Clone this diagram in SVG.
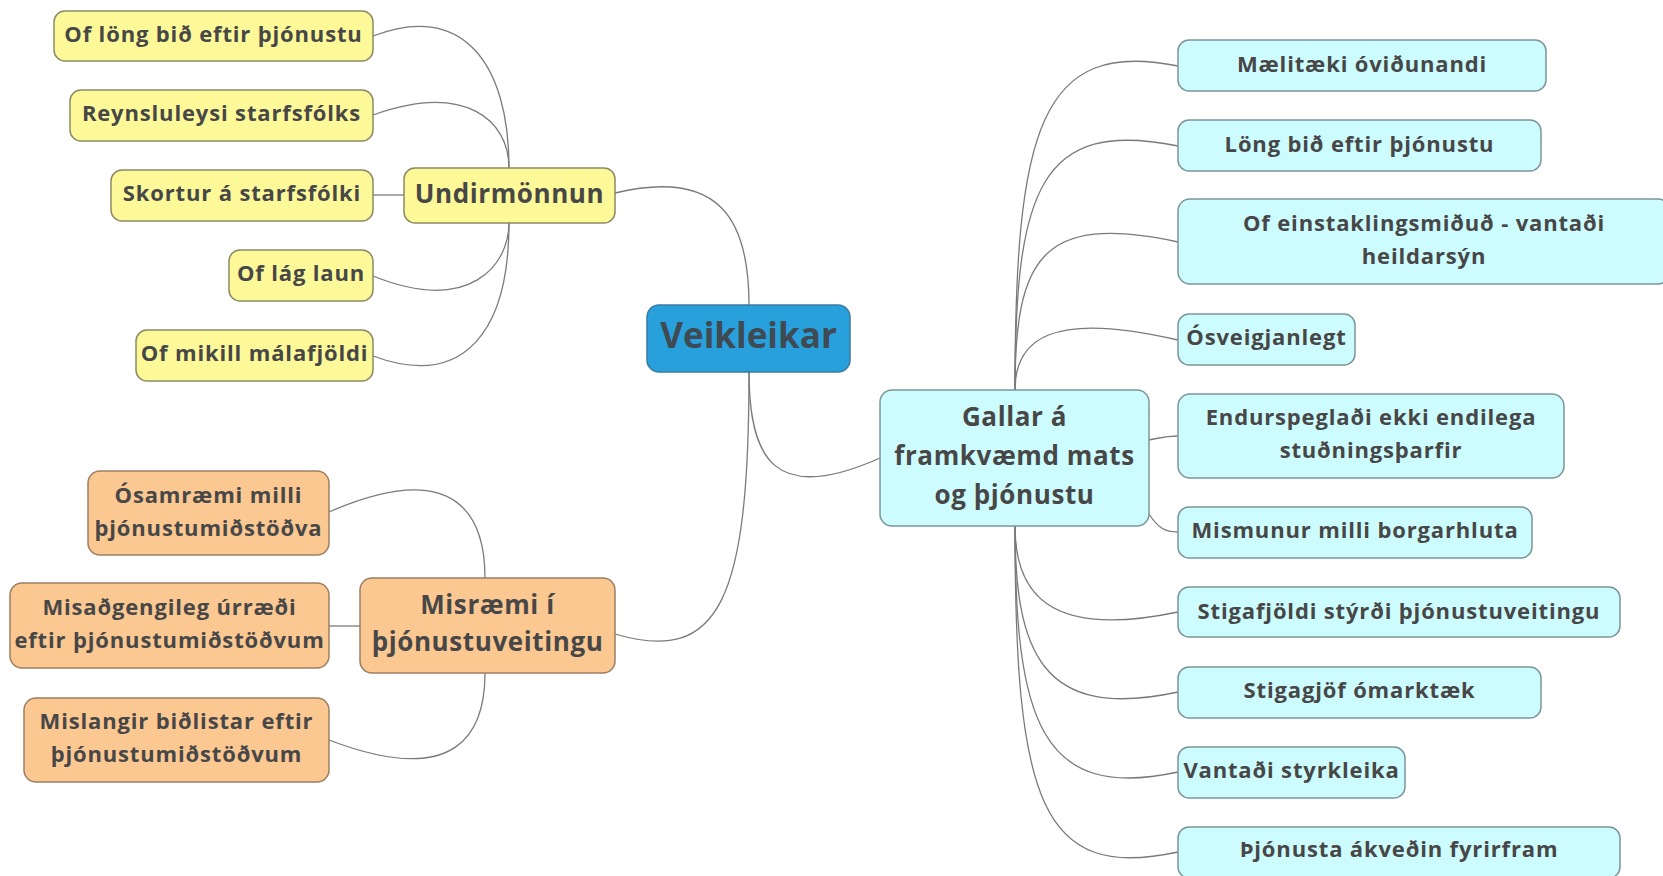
<svg xmlns="http://www.w3.org/2000/svg" width="1663" height="876" viewBox="0 0 1663 876">
<style>
  text { font-family: "Open Sans", "Noto Sans", "DejaVu Sans", sans-serif; font-weight: bold; fill: #474747; text-anchor: middle; }
  .leaf { font-size: 22px; letter-spacing: 0.85px; }
  .mid { font-size: 26px; letter-spacing: 0.6px; }
  .root { font-size: 35px; fill: #3f4a52; }
  .y { fill: #fdf998; stroke: #8c8a64; stroke-width: 1.5; }
  .o { fill: #fcc892; stroke: #9c7f62; stroke-width: 1.5; }
  .c { fill: #cdfcff; stroke: #7c9599; stroke-width: 1.5; }
  .b { fill: #28a0dc; stroke: #3a7aa0; stroke-width: 1.5; }
  .conn path { fill: none; stroke: #7a7a7a; stroke-width: 1.3; }
</style>
<rect width="1663" height="876" fill="#ffffff"/>
<g class="conn" id="connectors">
  <path d="M 749,305 C 749,220 720,168 615,193"/>
  <path d="M 749,372 C 749,600 720,665 615,634"/>
  <path d="M 749,372 C 749,460 775,505 880,458"/>
  <path d="M 509,168 C 509,60 460,2 373,36"/>
  <path d="M 509,168 C 509,120 465,82 373,115"/>
  <path d="M 373,195 L 404,195"/>
  <path d="M 509,223 C 509,265 470,315 373,276"/>
  <path d="M 509,223 C 509,330 465,390 373,356"/>
  <path d="M 485,578 C 485,520 460,455 329,512"/>
  <path d="M 329,626 L 360,626"/>
  <path d="M 485,673 C 485,730 460,790 329,740"/>
  <path d="M 1015,390 C 1015,130 1040,38 1178,66"/>
  <path d="M 1015,390 C 1015,190 1040,118 1178,146"/>
  <path d="M 1015,390 C 1015,260 1040,212 1178,242"/>
  <path d="M 1015,390 C 1015,340 1050,310 1178,340"/>
  <path d="M 1149,440 C 1160,438 1165,436 1178,436"/>
  <path d="M 1149,514 C 1158,528 1165,532 1178,532"/>
  <path d="M 1015,526 C 1015,590 1045,640 1178,612"/>
  <path d="M 1015,526 C 1015,650 1040,722 1178,692"/>
  <path d="M 1015,526 C 1015,720 1040,802 1178,772"/>
  <path d="M 1015,526 C 1015,800 1040,882 1178,852"/>
</g>
<g id="root"><rect class="b" x="647" y="305" width="203" height="67" rx="12"/><text class="root" x="748.5" y="348">Veikleikar</text></g>
<g id="undirmonnun"><rect class="y" x="404" y="168" width="211" height="55" rx="11"/><text class="mid" x="509.5" y="203">Undirmönnun</text></g>
<g id="y1"><rect class="y" x="54" y="11" width="319" height="50" rx="11"/><text class="leaf" x="213.5" y="42">Of löng bið eftir þjónustu</text></g>
<g id="y2"><rect class="y" x="70" y="90" width="303" height="51" rx="11"/><text class="leaf" x="221.5" y="121">Reynsluleysi starfsfólks</text></g>
<g id="y3"><rect class="y" x="111" y="170" width="262" height="51" rx="11"/><text class="leaf" x="242" y="201">Skortur á starfsfólki</text></g>
<g id="y4"><rect class="y" x="229" y="250" width="144" height="51" rx="11"/><text class="leaf" x="301" y="281">Of lág laun</text></g>
<g id="y5"><rect class="y" x="136" y="330" width="237" height="51" rx="11"/><text class="leaf" x="254.5" y="361">Of mikill málafjöldi</text></g>
<g id="misraemi"><rect class="o" x="360" y="578" width="255" height="95" rx="12"/><text class="mid" x="487.5" y="614">Misræmi í</text><text class="mid" x="487.5" y="651">þjónustuveitingu</text></g>
<g id="o1"><rect class="o" x="88" y="471" width="241" height="84" rx="12"/><text class="leaf" x="208.5" y="503">Ósamræmi milli</text><text class="leaf" x="208.5" y="536">þjónustumiðstöðva</text></g>
<g id="o2"><rect class="o" x="10" y="583" width="319" height="85" rx="12"/><text class="leaf" x="169.5" y="615">Misaðgengileg úrræði</text><text class="leaf" x="169.5" y="648">eftir þjónustumiðstöðvum</text></g>
<g id="o3"><rect class="o" x="24" y="698" width="305" height="84" rx="12"/><text class="leaf" x="176.5" y="729">Mislangir biðlistar eftir</text><text class="leaf" x="176.5" y="762">þjónustumiðstöðvum</text></g>
<g id="gallar"><rect class="c" x="880" y="390" width="269" height="136" rx="12"/><text class="mid" x="1014.5" y="426">Gallar á</text><text class="mid" x="1014.5" y="465">framkvæmd mats</text><text class="mid" x="1014.5" y="504">og þjónustu</text></g>
<g id="c1"><rect class="c" x="1178" y="40" width="368" height="51" rx="11"/><text class="leaf" x="1362" y="71.5">Mælitæki óviðunandi</text></g>
<g id="c2"><rect class="c" x="1178" y="120" width="363" height="51" rx="11"/><text class="leaf" x="1359.5" y="151.5">Löng bið eftir þjónustu</text></g>
<g id="c3"><rect class="c" x="1178" y="199" width="492" height="85" rx="12"/><text class="leaf" x="1424" y="231">Of einstaklingsmiðuð - vantaði</text><text class="leaf" x="1424" y="264">heildarsýn</text></g>
<g id="c4"><rect class="c" x="1178" y="314" width="177" height="51" rx="11"/><text class="leaf" x="1266.5" y="345">Ósveigjanlegt</text></g>
<g id="c5"><rect class="c" x="1178" y="394" width="386" height="84" rx="12"/><text class="leaf" x="1371" y="425">Endurspeglaði ekki endilega</text><text class="leaf" x="1371" y="458">stuðningsþarfir</text></g>
<g id="c6"><rect class="c" x="1178" y="507" width="354" height="51" rx="11"/><text class="leaf" x="1355" y="538">Mismunur milli borgarhluta</text></g>
<g id="c7"><rect class="c" x="1178" y="587" width="442" height="50" rx="11"/><text class="leaf" x="1399" y="618.5">Stigafjöldi stýrði þjónustuveitingu</text></g>
<g id="c8"><rect class="c" x="1178" y="667" width="363" height="51" rx="11"/><text class="leaf" x="1359.5" y="698">Stigagjöf ómarktæk</text></g>
<g id="c9"><rect class="c" x="1178" y="747" width="227" height="51" rx="11"/><text class="leaf" x="1291.5" y="778">Vantaði styrkleika</text></g>
<g id="c10"><rect class="c" x="1178" y="827" width="442" height="51" rx="11"/><text class="leaf" x="1399" y="856.5">Þjónusta ákveðin fyrirfram</text></g>
</svg>
